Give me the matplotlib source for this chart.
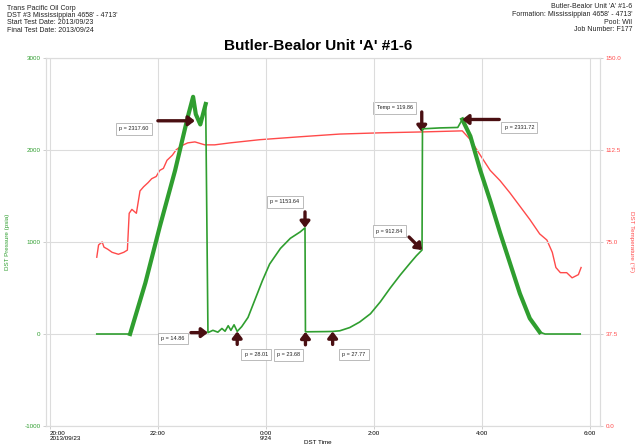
import matplotlib
matplotlib.use("Agg")
import matplotlib.pyplot as plt
import matplotlib.dates as mdates
import pandas as pd

plt.rcParams['font.family'] = ['Liberation Sans', 'DejaVu Sans']

# ---------------- data ----------------
start = pd.Timestamp("2013-09-23 20:00")

press_min = [52, 89, 106, 122, 139, 153, 159, 162, 167, 173, 175.5,
             181, 186.5, 191, 194.5, 198, 201, 204.5, 208,
             213, 220, 228, 236, 244, 256, 267, 278, 283.3,
             283.8, 294, 305, 314,
             322, 333, 344, 356, 367, 378, 389, 400, 407, 413.3,
             413.8, 433, 453, 458,
             467, 478, 489, 500, 511, 522, 533, 544, 550, 589]
press_psi = [0, 0, 556, 1167, 1778, 2356, 2578, 2389, 2278, 2500, 14.86,
             40, 20, 60, 30, 90, 40, 100, 28.01,
             80, 180, 380, 580, 760, 930, 1040, 1110, 1153.64,
             23.68, 25, 26, 27.77,
             35, 70, 130, 220, 350, 500, 640, 770, 850, 912.84,
             2230, 2240, 2245, 2331.72,
             2150, 1780, 1450, 1100, 770, 440, 170, 20, 0, 0]

temp_min = [52, 54, 58, 60, 64, 69, 76, 82, 86, 88, 91, 96, 100, 104, 109, 113,
            118, 122, 126, 130, 136, 140, 146, 153, 161, 172, 183, 200, 233, 278,
            322, 367, 413, 458, 467, 478, 489, 500, 511, 522, 533, 544, 552, 558,
            562, 567, 574, 580, 587, 590]
temp_F = [68.8, 73.8, 75.0, 72.9, 72.1, 70.8, 70.0, 70.8, 71.7, 86.7, 88.3, 86.7,
          95.8, 97.5, 99.2, 100.8, 101.7, 104.2, 105.0, 108.3, 110.4, 112.5, 114.2,
          115.4, 115.8, 114.6, 114.6, 115.4, 116.7, 117.9, 119.0, 119.5, 119.86,
          120.3, 116.7, 110.4, 104.2, 100.0, 95.0, 89.6, 84.2, 78.3, 75.8, 70.8,
          64.6, 62.5, 62.5, 60.4, 61.7, 64.6]

# annotations: label, minute, value, axis, arrow tail offset (px), text offset (px)
annots = [
    ("p = 2317.60", 161, 2317.60, "p", (-37, 0), (-61, 8)),
    ("Temp = 119.86", 413, 119.86, "t", (0, -20), (-27, -24)),
    ("p = 2331.72", 458, 2331.72, "p", (37, 0), (57, 8)),
    ("p = 1153.64", 283.3, 1153.64, "p", (0, -16), (-20, -26)),
    ("p = 912.84", 413.3, 912.84, "p", (-13, -13), (-33, -19)),
    ("p = 14.86", 175.5, 14.86, "p", (-17, 0), (-35, 6)),
    ("p = 28.01", 208, 28.01, "p", (0, 13), (19, 23)),
    ("p = 23.68", 283.8, 23.68, "p", (0, 13), (-17, 23)),
    ("p = 27.77", 314, 27.77, "p", (0, 13), (21, 23)),
]

xtick_hours = [0, 2, 4, 6, 8, 10]
xtick_labels = ["20:00\n2013/09/23", "22:00", "0:00\n9/24", "2:00", "4:00", "6:00"]
p_ticks = [-1000, 0, 1000, 2000, 3000]
t_ticks = [0.0, 37.5, 75.0, 112.5, 150.0]

left_header = ["Trans Pacific Oil Corp", "DST #3 Mississippian 4658' - 4713'",
               "Start Test Date: 2013/09/23", "Final Test Date: 2013/09/24"]
right_header = ["Butler-Bealor Unit 'A' #1-6", "Formation: Mississippian 4658' - 4713'",
                "Pool: Wil", "Job Number: F177"]
title = "Butler-Bealor Unit 'A' #1-6"

# ---------------- drawing ----------------
GREEN = "#2f9e2f"
RED = "#ff4a4a"
ARROW = "#4a0f12"
GRID = "#dcdcdc"

px = 0.72  # points per pixel at dpi 100

def tm(m):
    return mdates.date2num(start + pd.Timedelta(minutes=m))

fig = plt.figure(figsize=(6.36, 4.47), dpi=100)
ax = fig.add_axes([46/636, 1-426/447, (600-46)/636, (426-58)/447])
ax2 = ax.twinx()

pt = [tm(m) for m in press_min]
tt = [tm(m) for m in temp_min]

ax2.plot(tt, temp_F, color=RED, lw=1.0, zorder=2)
ax.plot(pt, press_psi, color=GREEN, lw=1.2, zorder=3)
# thick run-in / pull-out sections
ax.plot(pt[1:10], press_psi[1:10], color=GREEN, lw=3.0, zorder=3)
ax.plot(pt[45:54], press_psi[45:54], color=GREEN, lw=3.0, zorder=3)

ax.set_zorder(ax2.get_zorder() + 1)
ax.patch.set_visible(False)

ax.set_xlim(tm(-4.4), tm(611))
ax.set_ylim(-1000, 3000)
ax2.set_ylim(0, 150)

ax.set_xticks([tm(h * 60) for h in xtick_hours])
ax.set_xticklabels(xtick_labels, fontsize=4.5, linespacing=1.1)
labs = ax.get_xticklabels()
labs[0].set_ha('left')
ax.set_yticks(p_ticks)
ax.set_yticklabels([str(v) for v in p_ticks], fontsize=4.5, color=GREEN)
ax2.set_yticks(t_ticks)
ax2.set_yticklabels([f"{v:.1f}" for v in t_ticks], fontsize=4.5, color=RED)

ax.grid(True, color=GRID, lw=0.8)
for a in (ax, ax2):
    for s in a.spines.values():
        s.set_color(GRID)
        s.set_linewidth(0.8)
    a.tick_params(length=2, width=0.5, color="#bbbbbb", pad=2)
ax.tick_params(axis='x', pad=1.5)

ax.set_ylabel("DST Pressure (psia)", fontsize=4.5, color=GREEN, labelpad=10)
ax2.set_ylabel("DST Temperature (\u00b0F)", fontsize=4.5, color=RED, rotation=270, labelpad=9)
fig.text(318/636, 1-442/447, "DST Time", fontsize=4.5, ha="center", va="center")

for label, m, v, which, tail, toff in annots:
    a = ax if which == "p" else ax2
    xy = (tm(m), v)
    a.annotate("", xy=xy, xytext=(tail[0]*px, -tail[1]*px), textcoords="offset points",
               arrowprops=dict(arrowstyle="-|>,head_width=0.35,head_length=0.45",
                               color=ARROW, lw=2.4, shrinkA=0, shrinkB=0,
                               mutation_scale=8), zorder=6, annotation_clip=False)
    a.annotate(label, xy=xy, xytext=(toff[0]*px, -toff[1]*px), textcoords="offset points",
               ha="center", va="center", fontsize=4, color="#222222",
               bbox=dict(boxstyle="square,pad=0.6", fc="white", ec="#b0b0b0", lw=0.6),
               zorder=7, annotation_clip=False)

# header texts
for i, line in enumerate(left_header):
    fig.text(7/636, 1-(8+7.5*i)/447, line, fontsize=5, ha="left", va="center", color="#222222")
for i, line in enumerate(right_header):
    fig.text(632/636, 1-(7+7.5*i)/447, line, fontsize=5, ha="right", va="center", color="#222222")
fig.text(318/636, 1-46/447, title, fontsize=11, fontweight="bold", ha="center", va="center")

fig.savefig("out.png", dpi=100)
